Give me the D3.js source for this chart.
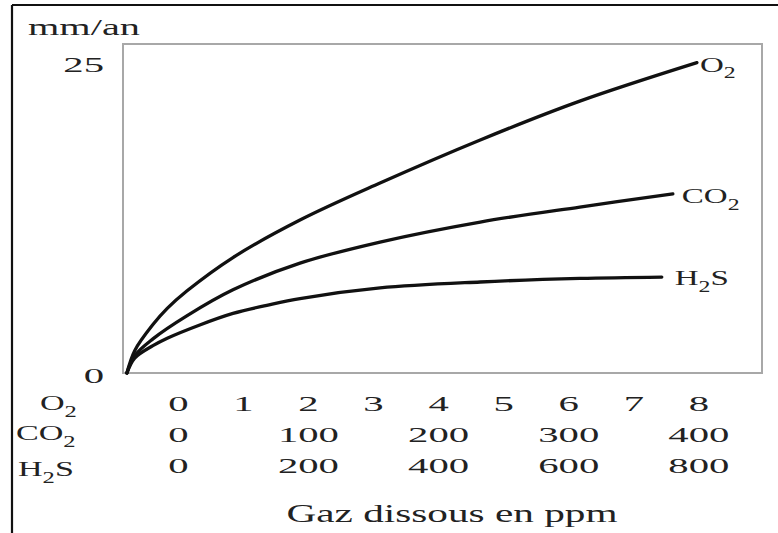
<!DOCTYPE html>
<html>
<head>
<meta charset="utf-8">
<script src="https://cdn.jsdelivr.net/npm/d3@7"></script>
<style>
  html, body { margin: 0; padding: 0; background: #fff; }
  svg { display: block; }
  text { font-family: "Liberation Serif", "Times New Roman", serif; fill: #222; }
</style>
</head>
<body>
<svg id="chart" width="778" height="533"></svg>
<script>
// ---- data (x in O2 ppm units; CO2 = 50 × O2, H2S = 100 × O2) ----
const o2X   = [-0.79, -0.67, -0.39, -0.17, 0.13, 0.84, 1.87, 3.10, 4.64, 6.17, 7.97];
const o2Y   = [0,     1.8,   3.9,   5.2,   6.6,  9.3,  12.32, 15.30, 18.77, 21.90, 25];
const co2X  = [-0.79, -0.67, -0.39, 0.13, 0.84, 1.87, 3.10, 4.64, 6.17, 7.60];
const co2Y  = [0,     1.4,   2.75,  4.6,  6.7,  8.85, 10.55, 12.16, 13.37, 14.42];
const h2sX  = [-0.79, -0.67, -0.39, -0.17, 0.33, 0.84, 1.36, 1.87, 3.10, 4.64, 6.17, 7.43];
const h2sY  = [0,     1.2,   2.2,   2.8,   3.87, 4.80, 5.45, 6.00, 6.85, 7.33, 7.62, 7.73];

const o2Ticks  = [0, 1, 2, 3, 4, 5, 6, 7, 8];
const co2Ticks = [0, 100, 200, 300, 400];
const h2sTicks = [0, 200, 400, 600, 800];
const yTicks   = [0, 25];

const yLabel = "mm/an";
const xLabel = "Gaz dissous en ppm";

// ---- layout ----
const svg = d3.select("#chart");
const mLeft = 123, mRight = 762, mTop = 44, mBottom = 373;

const x = d3.scaleLinear().domain([-0.85, 8.97]).range([mLeft, mRight]);
const y = d3.scaleLinear().domain([0, 26.5]).range([mBottom, mTop]);

// outer frame (top + left)
svg.append("line").attr("x1", 12).attr("y1", 5).attr("x2", 778).attr("y2", 5)
  .attr("stroke", "#111").attr("stroke-width", 2.2);
svg.append("line").attr("x1", 12).attr("y1", 5).attr("x2", 12).attr("y2", 533)
  .attr("stroke", "#111").attr("stroke-width", 2.2);

// plot box
svg.append("rect").attr("x", mLeft).attr("y", mTop)
  .attr("width", mRight - mLeft).attr("height", mBottom - mTop)
  .attr("fill", "none").attr("stroke", "#a8a8a8").attr("stroke-width", 2);

// stretched text helper
function txt(px, py, size, sx, anchor) {
  return svg.append("text")
    .attr("transform", `translate(${px},${py}) scale(${sx},1)`)
    .attr("font-size", size)
    .attr("text-anchor", anchor || "start");
}
function chem(t, base, sub, rest, size) {
  t.append("tspan").text(base);
  t.append("tspan").attr("font-size", size * 0.72).attr("dy", size * 0.3).text(sub);
  if (rest) t.append("tspan").attr("dy", -size * 0.3).text(rest);
}

// y label & ticks
txt(28, 35, 24, 1.68).text(yLabel);
yTicks.forEach(v => {
  txt(104, y(v) + (v === 0 ? 10 : 9), 22, 1.85, "end").text(v);
});

// x tick rows
const rowBase = [411, 442, 473];
o2Ticks.forEach(v => txt(x(v), rowBase[0], 22, 1.85, "middle").text(v));
co2Ticks.forEach(v => txt(x(v / 50), rowBase[1], 22, 1.85, "middle").text(v));
h2sTicks.forEach(v => txt(x(v / 100), rowBase[2], 22, 1.85, "middle").text(v));

// row labels
chem(txt(40, 410, 22, 1.55), "O", "2", null, 22);
chem(txt(16, 440, 22, 1.55), "CO", "2", null, 22);
chem(txt(18, 476, 22, 1.55), "H", "2", "S", 22);

// x label
txt(452, 522, 25, 1.65, "middle").text(xLabel);

// curves
const line = d3.line().x(d => x(d[0])).y(d => y(d[1])).curve(d3.curveCatmullRom.alpha(0.5));
const series = [
  { xs: o2X, ys: o2Y },
  { xs: co2X, ys: co2Y },
  { xs: h2sX, ys: h2sY }
];
series.forEach(s => {
  svg.append("path")
    .datum(d3.zip(s.xs, s.ys))
    .attr("d", line)
    .attr("fill", "none")
    .attr("stroke", "#111")
    .attr("stroke-width", 3.3)
    .attr("stroke-linecap", "round")
    .attr("stroke-linejoin", "round");
});

// curve labels
chem(txt(x(o2X[o2X.length - 1]) + 3, y(o2Y[o2Y.length - 1]) + 9, 22, 1.5), "O", "2", null, 22);
chem(txt(x(co2X[co2X.length - 1]) + 9, y(co2Y[co2Y.length - 1]) + 9, 22, 1.5), "CO", "2", null, 22);
chem(txt(x(h2sX[h2sX.length - 1]) + 13, y(h2sY[h2sY.length - 1]) + 8, 22, 1.5), "H", "2", "S", 22);
</script>
</body>
</html>
